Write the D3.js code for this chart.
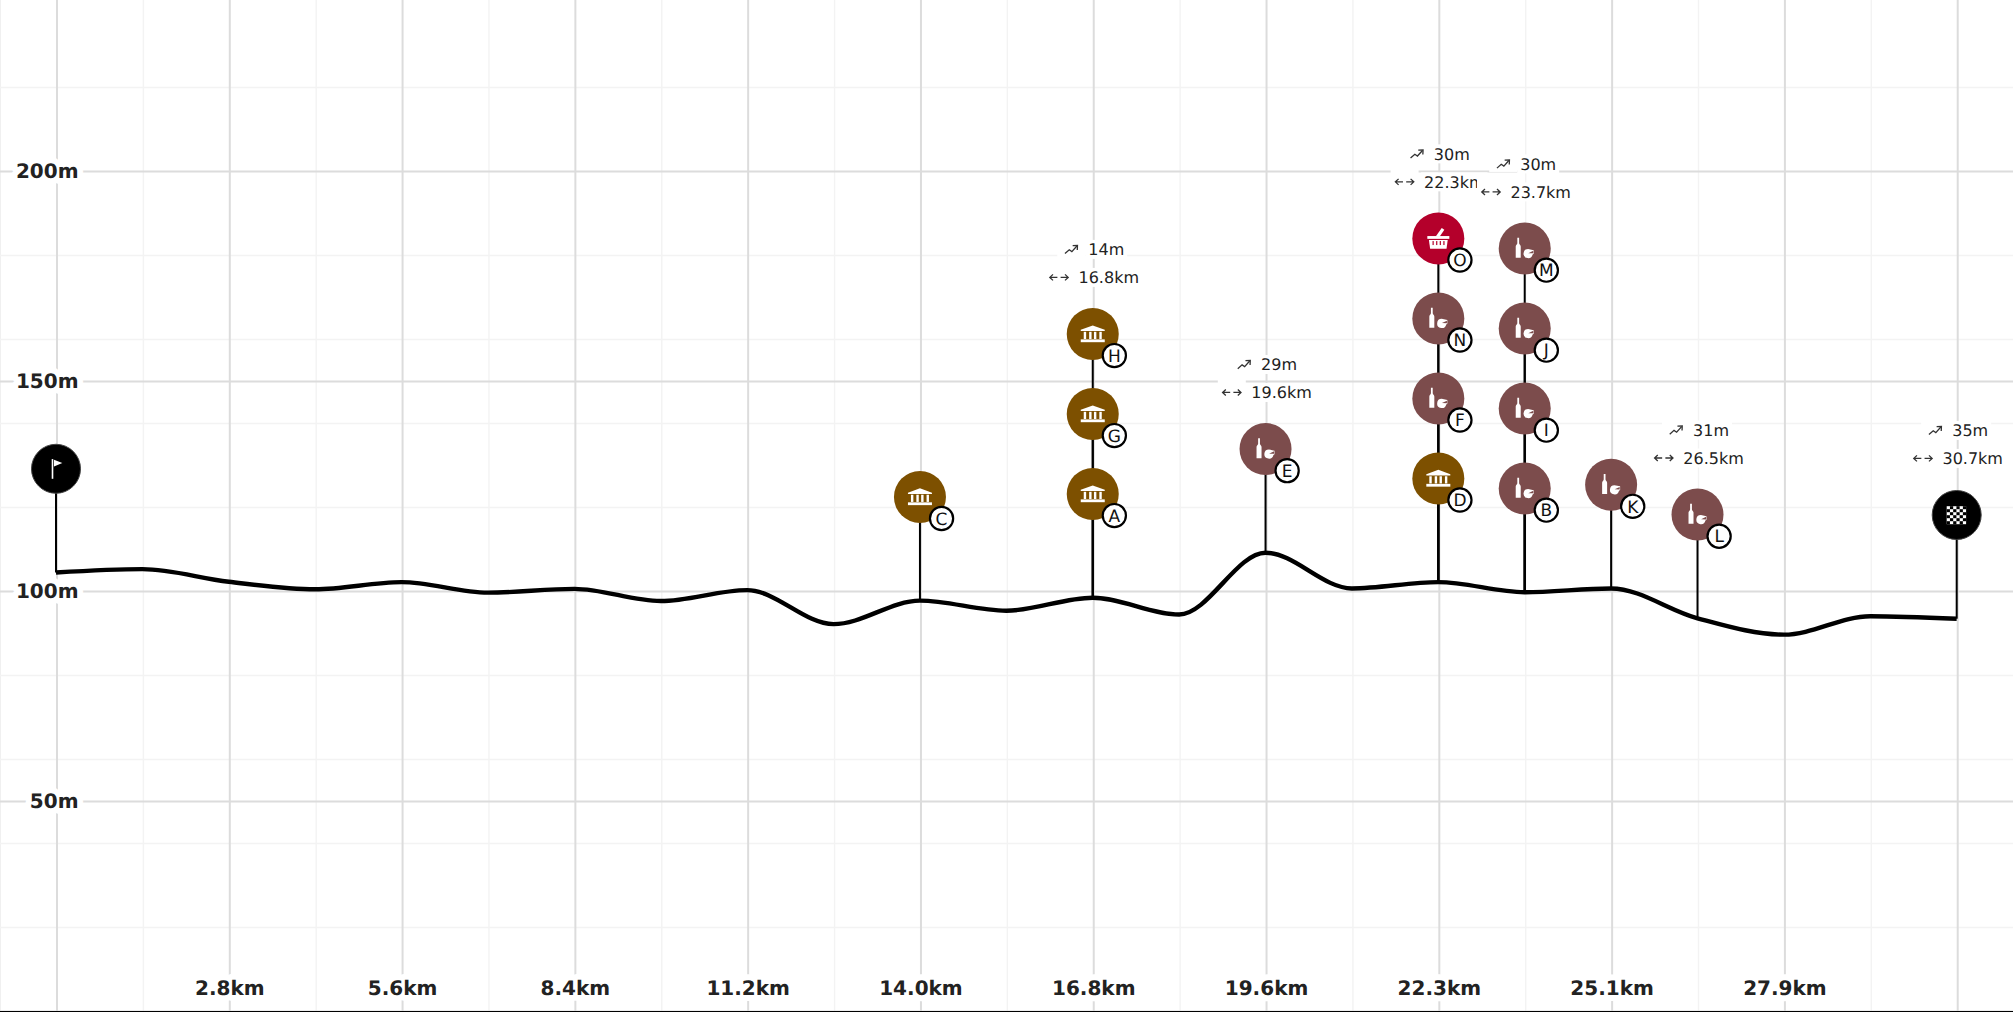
<!DOCTYPE html>
<html>
<head>
<meta charset="utf-8">
<style>
  html,body{margin:0;padding:0;background:#fff;overflow:hidden;}
  svg{display:block;font-family:"DejaVu Sans",sans-serif;text-rendering:geometricPrecision;}
</style>
<script src="https://cdn.jsdelivr.net/npm/d3@7"></script>
</head>
<body>
<svg id="chart"></svg>
<script>
// elevation profile
var profileKm = [0,1.395,2.79,4.185,5.58,6.975,8.37,9.765,11.16,12.555,13.95,15.345,
                 16.74,18.135,19.53,20.925,22.32,23.715,25.11,26.505,27.9,29.295,30.69];
var profileElev = [104.4,105.2,102.2,100.4,102.1,99.6,100.5,97.6,100.2,92.1,97.7,95.3,
                   98.4,94.4,109.1,100.6,102.1,99.7,100.6,93.5,89.6,94.0,93.4];

// axis ticks
var xMajorKm = [0,2.79,5.58,8.37,11.16,13.95,16.74,19.53,22.32,25.11,27.9,30.69];
var xMinorKm = [1.395,4.185,6.975,9.765,12.555,15.345,18.135,20.925,23.715,26.505,29.295];
var xTickKm = [2.79,5.58,8.37,11.16,13.95,16.74,19.53,22.32,25.11,27.9];
var xTickLabels = ["2.8km","5.6km","8.4km","11.2km","14.0km","16.8km","19.6km","22.3km","25.1km","27.9km"];
var yMajor = [0,50,100,150,200];
var yMinor = [20,40,60,80,120,140,160,180,220];
var yTicks = [50,100,150,200];

// points of interest
var poiLetter = ["","C","A","G","H","E","D","F","N","O","B","I","J","M","K","L",""];
var poiKm = [0,13.95,16.74,16.74,16.74,19.53,22.32,22.32,22.32,22.32,23.715,23.715,23.715,23.715,25.11,26.505,30.69];
var poiLevel = [0,0,0,1,2,0,0,1,2,3,0,1,2,3,0,0,0];
var poiType = ["start","museum","museum","museum","museum","food","museum","food","food","market",
               "food","food","food","food","food","food","finish"];

// gain / distance notes, on top of a stack
var noteKm = [16.74,19.53,22.32,23.715,26.505,30.69];
var noteLevel = [2,0,3,3,0,0];
var noteGain = ["14m","29m","30m","30m","31m","35m"];
var noteDist = ["16.8km","19.6km","22.3km","23.7km","26.5km","30.7km"];

var typeColors = {start:"#000",finish:"#000",museum:"#7d5000",food:"#7c4c4c",market:"#b4002b"};

makeChart(2013,1012,"svg#chart");

function elevAt(km) {
  return profileElev[profileKm.indexOf(km)];
}

function makeChart(w,h,svgName) {
  var svg = d3.select(svgName)
              .attr("width",w)
              .attr("height",h);

  svg.append("rect")
     .attr("width",w)
     .attr("height",h)
     .attr("fill","#fff");

  var xScale = d3.scaleLinear()
                 .domain([0,30.69])
                 .range([56,1956.7]);
  var yScale = d3.scaleLinear()
                 .domain([0,240.7])
                 .range([1011,0]);

  var lift = 103.7;
  var levelStep = 80;
  function poiY(km,level) {
    return yScale(elevAt(km))-lift-level*levelStep;
  }

  // grid
  function xGrid(values,color,width) {
    svg.append("g")
       .attr("transform","translate(0.5,1011)")
       .call(d3.axisBottom(xScale).tickValues(values).tickSize(-1011).tickFormat(""))
       .call(function(g){g.select(".domain").remove();})
       .selectAll("line")
       .attr("stroke",color)
       .attr("stroke-width",width);
  }
  function yGrid(values,color,width) {
    svg.append("g")
       .call(d3.axisRight(yScale).tickValues(values).tickSize(w).tickFormat(""))
       .call(function(g){g.select(".domain").remove();})
       .selectAll("line")
       .attr("stroke",color)
       .attr("stroke-width",width);
  }
  svg.append("line")
     .attr("x1",0.5).attr("x2",0.5)
     .attr("y1",0).attr("y2",h)
     .attr("stroke","#f0f0f0");
  xGrid(xMinorKm,"#f3f3f3",1.4);
  yGrid(yMinor,"#f3f3f3",1.4);
  xGrid(xMajorKm,"#dcdcdc",2);
  yGrid(yMajor,"#dcdcdc",2);

  svg.append("line")
     .attr("x1",0).attr("x2",w)
     .attr("y1",1011.5).attr("y2",1011.5)
     .attr("stroke","#000");

  // tick labels
  var xAxis = svg.append("g")
                 .attr("transform","translate(0.5,981)")
                 .call(d3.axisBottom(xScale)
                         .tickValues(xTickKm)
                         .tickSize(0)
                         .tickPadding(0)
                         .tickFormat(function(d,i){return xTickLabels[i];}));
  var yAxis = svg.append("g")
                 .attr("transform","translate(78.5,0)")
                 .call(d3.axisLeft(yScale)
                         .tickValues(yTicks)
                         .tickSize(0)
                         .tickPadding(0)
                         .tickFormat(function(d){return d+"m";}));
  [xAxis,yAxis].forEach(function(a){
    a.select(".domain").remove();
    a.selectAll("text")
     .attr("font-family","DejaVu Sans")
     .attr("font-size",20)
     .attr("font-weight","bold")
     .attr("fill","#222")
     .attr("stroke","#fff")
     .attr("stroke-width",12)
     .attr("stroke-linejoin","round")
     .attr("paint-order","stroke");
  });
  xAxis.selectAll("text").attr("y",0).attr("dy","0.71em");

  // connectors
  svg.append("g")
     .selectAll("line")
     .data(poiKm)
     .enter()
     .append("line")
     .attr("x1",function(d){return xScale(d);})
     .attr("x2",function(d){return xScale(d);})
     .attr("y1",function(d){return yScale(elevAt(d));})
     .attr("y2",function(d,i){return poiY(d,poiLevel[i]);})
     .attr("stroke","#000")
     .attr("stroke-width",2);

  // profile
  var line = d3.line()
               .x(function(d){return xScale(d);})
               .y(function(d,i){return yScale(profileElev[i]);})
               .curve(d3.curveMonotoneX);
  svg.append("path")
     .attr("d",line(profileKm))
     .attr("fill","none")
     .attr("stroke","#000")
     .attr("stroke-width",4.4);

  // markers
  var pois = svg.append("g")
                .selectAll("g")
                .data(poiKm)
                .enter()
                .append("g")
                .attr("transform",function(d,i){
                  return "translate("+xScale(d)+","+poiY(d,poiLevel[i])+")";
                });

  pois.append("circle")
      .attr("r",function(d,i){return poiLetter[i]?26:24.5;})
      .attr("fill",function(d,i){return typeColors[poiType[i]];})
      .attr("stroke",function(d,i){return poiLetter[i]?"none":"#444";})
      .attr("stroke-width",1);

  pois.each(function(d,i){
    drawIcon(d3.select(this),poiType[i]);
    if (poiLetter[i]) {
      var badge = d3.select(this).append("g")
                    .attr("transform","translate(21.6,21.6)");
      badge.append("circle")
           .attr("r",11.6)
           .attr("fill","#fff")
           .attr("stroke","#000")
           .attr("stroke-width",2.2);
      badge.append("text")
           .attr("text-anchor","middle")
           .attr("y",6.2)
           .attr("font-size",17)
           .attr("fill","#111")
           .text(poiLetter[i]);
    }
  });

  // notes above the stacks
  noteKm.forEach(function(km,i){
    var cx = xScale(km)+1;
    var top = poiY(km,noteLevel[i]);
    var note = svg.append("g");
    drawRow(note,cx,top-84.6,noteGain[i],25,17,"up");
    drawRow(note,cx,top-56.6,noteDist[i],30,19.5,"both");
  });
}

function drawRow(g,cx,cy,label,slot,back,kind) {
  var bgIcon = g.append("rect").attr("fill","#fff");
  var bgText = g.append("rect").attr("fill","#fff");
  var text = g.append("text")
              .attr("font-size",16)
              .attr("fill","#222")
              .text(label);
  var tw = text.node().getComputedTextLength();
  var x0 = cx-(tw+slot)/2+slot;
  text.attr("x",x0).attr("y",cy+5.8);
  bgText.attr("x",x0-3).attr("y",cy-9.5).attr("width",tw+6).attr("height",19);
  bgIcon.attr("x",x0-back-14).attr("y",cy-13).attr("width",28).attr("height",21);

  var icon = g.append("g")
              .attr("transform","translate("+(x0-back)+","+cy+")")
              .attr("fill","none")
              .attr("stroke","#333")
              .attr("stroke-width",1.3);
  if (kind=="up") {
    icon.append("path").attr("d","M-6.3,4.2L-2,0.4L0.6,2.2L5.6,-3.4");
    icon.append("path").attr("d","M1.4,-3.8L6.2,-4L6,0.6");
  } else {
    icon.append("path").attr("d","M-9,0H-1.6M-6,-3L-9.2,0L-6,3");
    icon.append("path").attr("d","M1.6,0H9M6,-3L9.2,0L6,3");
  }
}

function drawIcon(g,type) {
  var icon = g.append("g").attr("fill","#fff");
  var base = g.select("circle").attr("fill");
  if (type=="museum") {
    icon.append("path").attr("d","M0,-8.6L12,-4.3V-3H-12V-4.3Z");
    [-9,-3.6,1.2,6.6].forEach(function(cx){
      icon.append("rect").attr("x",cx).attr("y",-2.2).attr("width",2.4).attr("height",7.2);
    });
    icon.append("rect").attr("x",-12).attr("y",5.4).attr("width",24).attr("height",2.8);
  } else if (type=="food") {
    icon.append("path").attr("d","M-7.4,-10.8H-5.6V-5.2C-5.6,-4 -4,-3.6 -4,-2V9.2H-9V-2C-9,-3.6 -7.4,-4 -7.4,-5.2Z");
    icon.append("path").attr("d","M3.4,0.4L9,1.6V5.2L7.9,6A4.6,4.6 0 1 1 3.4,0.4Z");
    icon.append("path").attr("d","M3.6,4.6L8.6,2.2V4.8Z").attr("fill",base);
  } else if (type=="market") {
    icon.append("rect").attr("x",-11).attr("y",-2.4).attr("width",22).attr("height",2.8);
    icon.append("path").attr("d","M-2.6,-2L3.4,-10.4L6,-8.6L1.4,-2Z");
    icon.append("path").attr("d","M-9.4,1.6H9.4L8.2,10.4H-8.2Z");
    [-5.8,-2.2,1.4,5].forEach(function(cx){
      icon.append("rect").attr("x",cx).attr("y",2.6).attr("width",1.2).attr("height",4)
          .attr("fill",base);
    });
  } else if (type=="start") {
    icon.append("rect").attr("x",-4.3).attr("y",-9.7).attr("width",1.6).attr("height",19.7);
    icon.append("path").attr("d","M-2,-9L6.3,-5.7L-2,-2.3Z");
  } else if (type=="finish") {
    icon.append("rect").attr("x",-10).attr("y",-8.8).attr("width",19.4).attr("height",18);
    d3.range(6).forEach(function(r){
      d3.range(6).forEach(function(c){
        if ((r+c)%2==1) {
          icon.append("rect").attr("x",-10+c*3.24).attr("y",-8.8+r*3).attr("width",3.24).attr("height",3).attr("fill","#000");
        }
      });
    });
  }
}
</script>
</body>
</html>
